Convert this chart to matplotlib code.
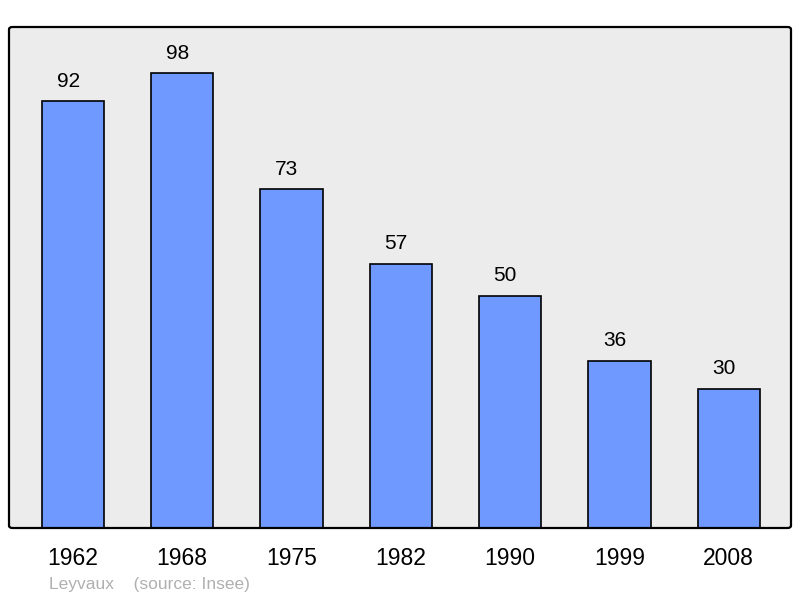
import matplotlib
matplotlib.use("Agg")
import matplotlib.pyplot as plt
from matplotlib.patches import FancyBboxPatch

years = ["1962", "1968", "1975", "1982", "1990", "1999", "2008"]
population = [92, 98, 73, 57, 50, 36, 30]

plt.rcParams['font.family'] = ['Liberation Sans', 'DejaVu Sans']

W, H = 800, 598
fig = plt.figure(figsize=(W / 100, H / 100), dpi=100)
L, R, T, B = 9, 791, 27, 528
ax = fig.add_axes([L / W, 1 - B / H, (R - L) / W, (B - T) / H])
ax.set_facecolor('#ececec')

x = list(range(len(years)))
bars = ax.bar(x, population, width=0.57, color='#7099ff', edgecolor='black', linewidth=1.2, zorder=2)
for xi, v in zip(x, population):
    ax.annotate(str(v), (xi, v), xytext=(-3.5, 10.5), textcoords='offset points',
                ha='center', va='baseline', fontsize=15, color='black')

ax.set_xlim(-0.585, 6.57)
ax.set_ylim(0, 108)
ax.set_xticks(x)
ax.set_xticklabels(years, fontsize=16.5)
ax.tick_params(axis='x', length=0, pad=14)
ax.set_yticks([])
for s in ax.spines.values():
    s.set_visible(False)

frame = FancyBboxPatch((L / W, 1 - B / H), (R - L) / W, (B - T) / H,
                       boxstyle="round,pad=0,rounding_size=0.004",
                       transform=fig.transFigure, fill=False, edgecolor='black',
                       linewidth=1.6, zorder=10)
fig.add_artist(frame)

fig.text(49 / W, 1 - 584 / H, "Leyvaux    (source: Insee)", fontsize=12.5,
         color='#b0b0b0', ha='left', va='center')

fig.savefig("out.png", dpi=100)
